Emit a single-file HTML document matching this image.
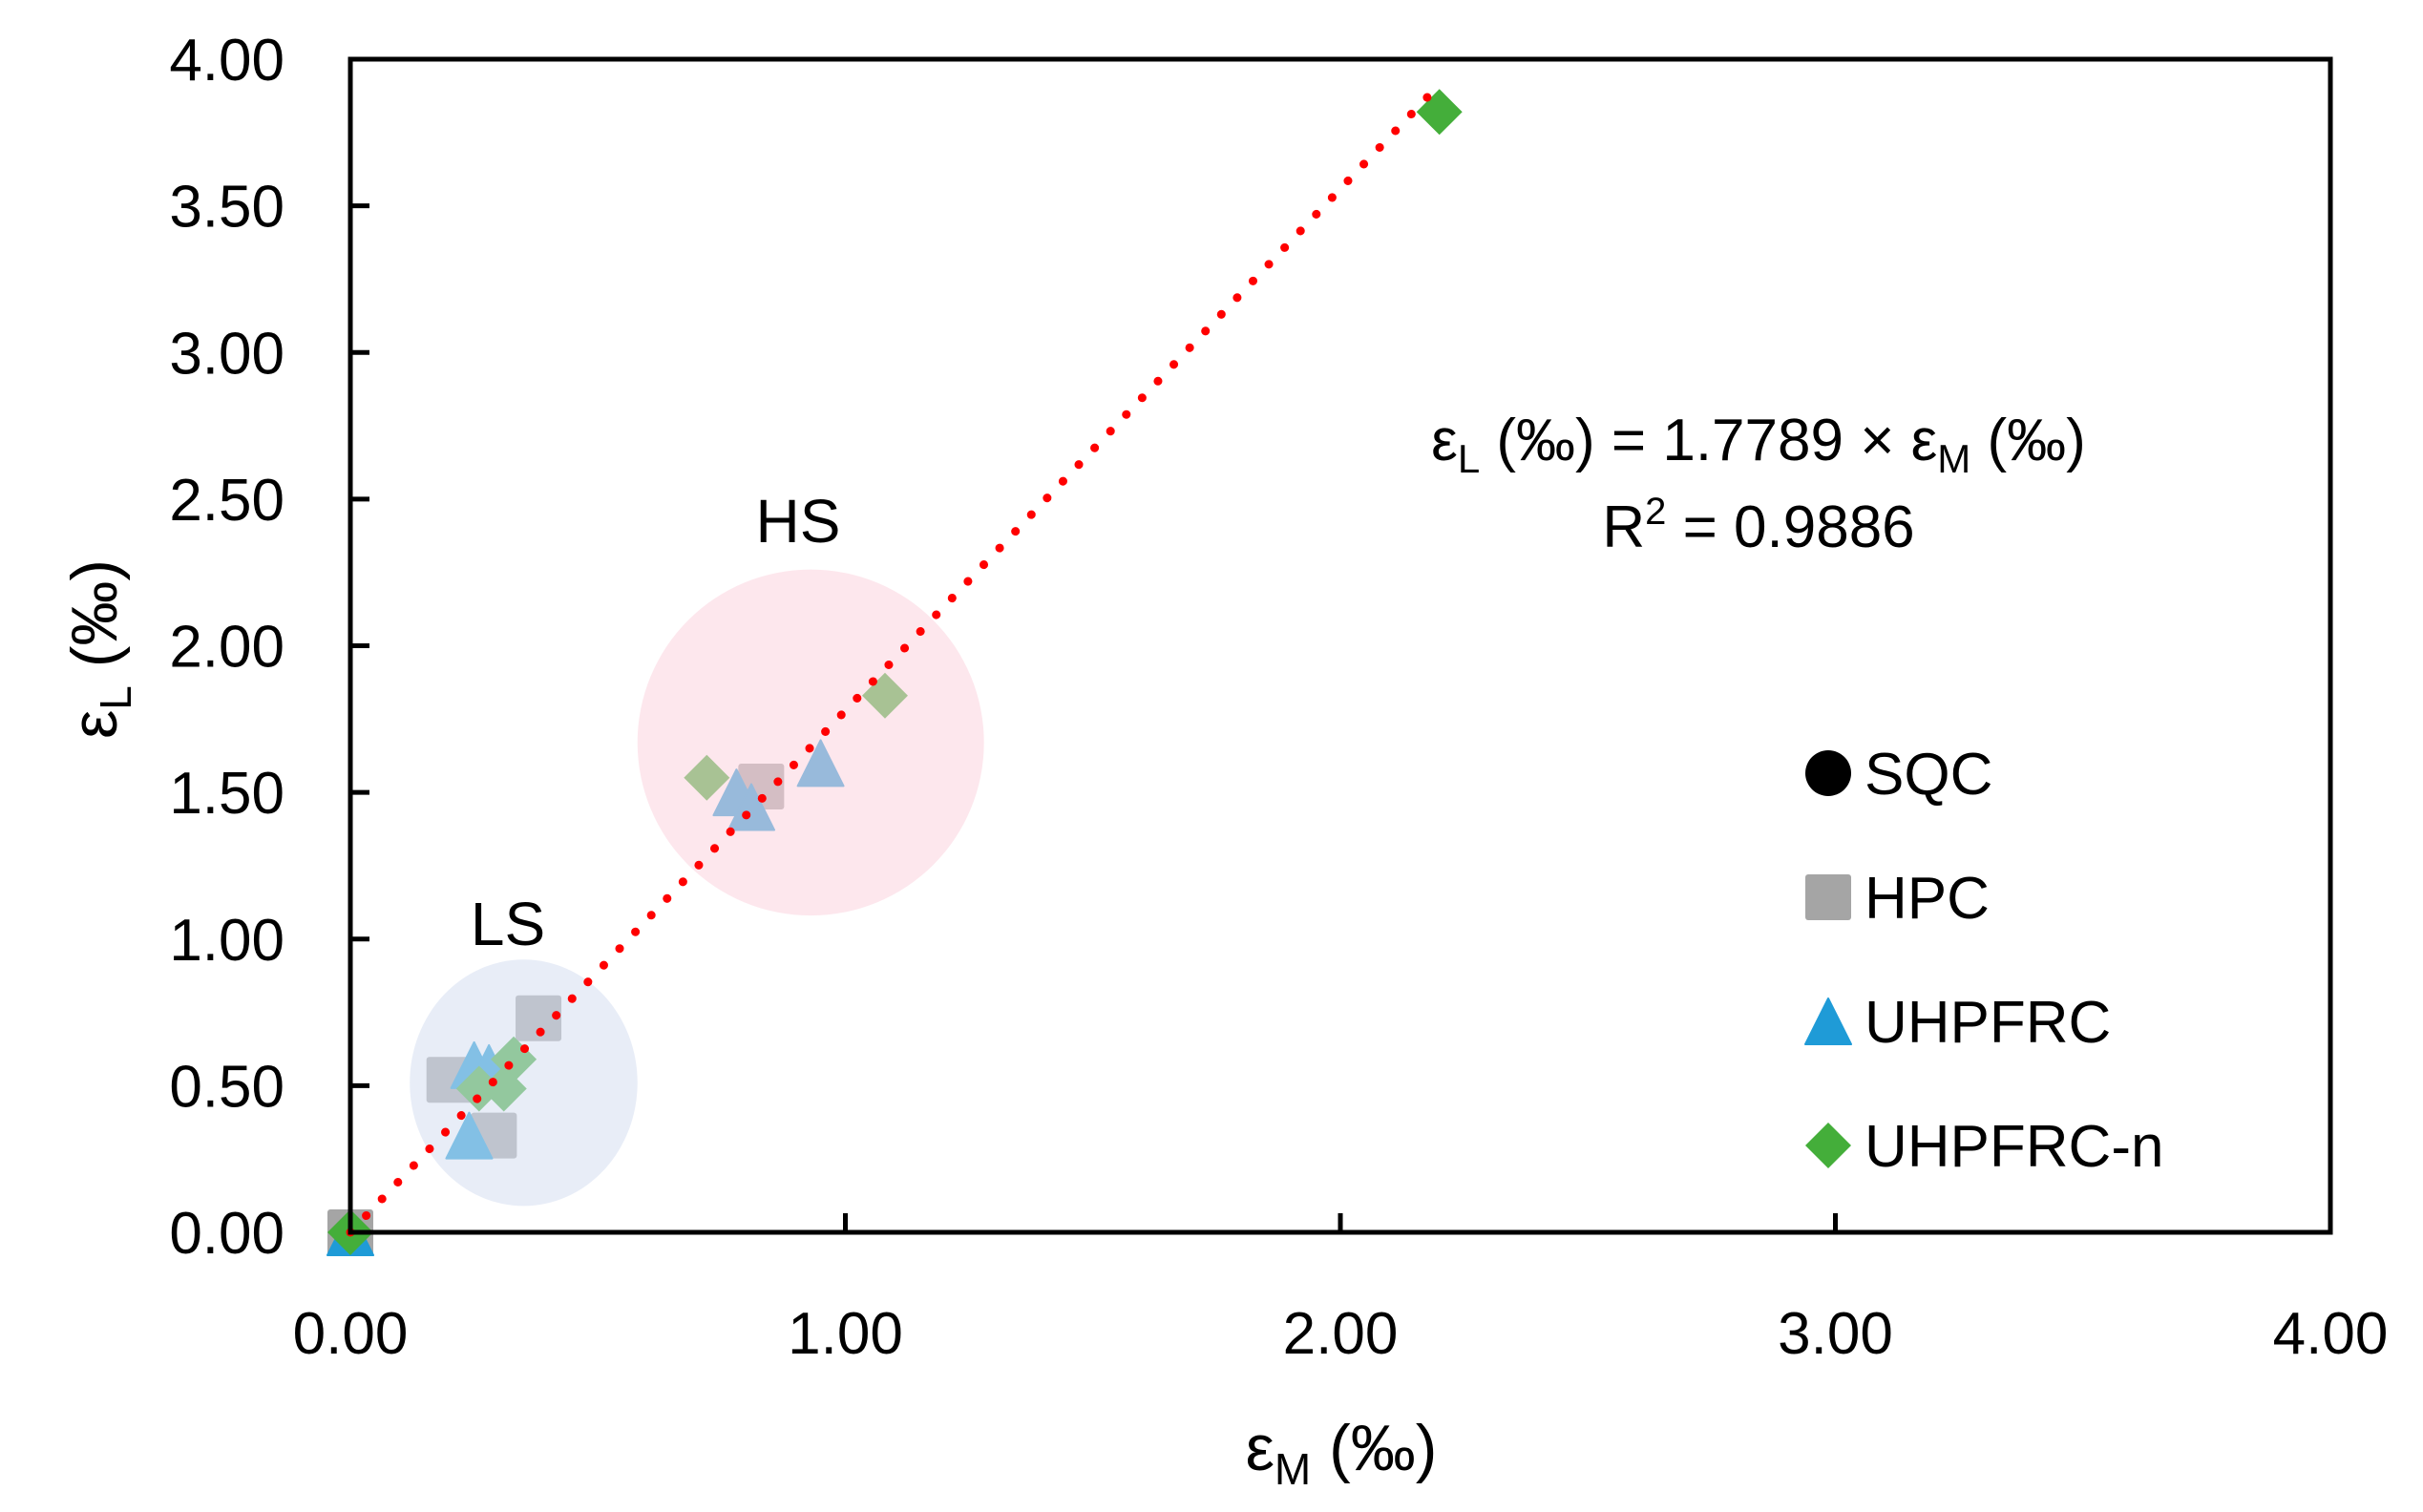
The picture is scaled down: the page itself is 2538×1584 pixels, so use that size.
<!DOCTYPE html>
<html><head><meta charset="utf-8"><style>
html,body{margin:0;padding:0;background:#fff;}
svg{display:block;font-family:"Liberation Sans",sans-serif;}
</style></head><body>
<svg id="chart" width="2538" height="1584" viewBox="0 0 2538 1584" xmlns="http://www.w3.org/2000/svg">
<rect width="2538" height="1584" fill="#fff"/>
<g id="clusters"></g>
<g id="marks"></g>
<g id="overlay"></g>
<g id="trend"></g>
<rect x="367" y="62" width="2074" height="1229" fill="none" stroke="#000" stroke-width="5"/>
<g id="axes"></g>
<text x="1842" y="482" font-size="62" text-anchor="middle">ε<tspan font-size="42" dy="13">L</tspan><tspan dy="-13"> (‰) = 1.7789 × ε</tspan><tspan font-size="42" dy="13">M</tspan><tspan dy="-13"> (‰)</tspan></text>
<text x="1842" y="573" font-size="62" text-anchor="middle">R<tspan font-size="40" dy="-24">2</tspan><tspan dy="24"> = 0.9886</tspan></text>
<text x="836" y="568" font-size="64" text-anchor="middle">HS</text>
<text x="532" y="990" font-size="64" text-anchor="middle">LS</text>
<text x="1405" y="1540" font-size="68" text-anchor="middle">ε<tspan font-size="46" dy="15">M</tspan><tspan dy="-15"> (‰)</tspan></text>
<text transform="translate(122,680) rotate(-90)" font-size="68" text-anchor="middle">ε<tspan font-size="46" dy="15">L</tspan><tspan dy="-15"> (‰)</tspan></text>
<g id="legend"></g>
</svg>
<script>
const xTicks=[0,1,2,3,4];
const yTicks=[0,0.5,1,1.5,2,2.5,3,3.5,4];
const seriesNames=["SQC","HPC","UHPFRC","UHPFRC-n"];
const sqcX=[0];const sqcY=[0];
const hpcX=[0,0.20,0.29,0.38,0.83];const hpcY=[0,0.52,0.33,0.73,1.52];
const uhpX=[0,0.25,0.28,0.24,0.78,0.81,0.95];const uhpY=[0,0.57,0.56,0.33,1.50,1.45,1.60];
const uhpnX=[0,0.33,0.26,0.31,0.72,1.08,2.20];const uhpnY=[0,0.59,0.49,0.49,1.55,1.83,3.82];
const slope=[1.7789];const trendRange=[0,2.19];
const clusterNames=["ls","hs"];const clusterCX=[0.35,0.93];const clusterCY=[0.51,1.67];const clusterRX=[0.23,0.35];const clusterRY=[0.42,0.59];
const NS="http://www.w3.org/2000/svg";
const X0=367,X1=2441,Y0=1291,Y1=62;
const sx=v=>X0+(v-0)/4*(X1-X0);
const sy=v=>Y0-(v-0)/4*(Y0-Y1);
function mk(t,a,p){const e=document.createElementNS(NS,t);for(const k in a)e.setAttribute(k,a[k]);(p||document.getElementById('chart')).appendChild(e);return e;}
const axes=document.getElementById('axes');
yTicks.forEach(v=>{
  if(v>0&&v<4){const l=mk('line',{x1:X0,x2:X0+20,y1:sy(v),y2:sy(v),stroke:'#000','stroke-width':5},axes);
  
  }
  const t=mk('text',{x:298,y:sy(v)+22,'font-size':62,'text-anchor':'end'},axes);t.textContent=v.toFixed(2);
  
  
});
xTicks.forEach(v=>{
  if(v>0&&v<4){const l=mk('line',{x1:sx(v),x2:sx(v),y1:Y0,y2:Y0-20,stroke:'#000','stroke-width':5},axes);
  
  }
  const t=mk('text',{x:sx(v),y:1418,'font-size':62,'text-anchor':'middle'},axes);t.textContent=v.toFixed(2);
  
  
});
const ov=document.getElementById('overlay');
const fills=['#d5def0','#fcd3de'];
clusterNames.forEach((n,i)=>{
  const e=mk('ellipse',{cx:sx(clusterCX[i]),cy:sy(clusterCY[i]),rx:clusterRX[i]/4*(X1-X0),ry:clusterRY[i]/4*(Y0-Y1),fill:fills[i],'fill-opacity':0.55},ov);
  
  
});
const marks=document.getElementById('marks');
function marker(type,x,y,p){
  const s=24;let e;
  if(type==0)e=mk('circle',{cx:x,cy:y,r:s,fill:'#000'},p);
  else if(type==1)e=mk('rect',{x:x-s,y:y-s,width:2*s,height:2*s,rx:3,fill:'#a5a5a5'},p);
  else if(type==2)e=mk('polygon',{points:`${x},${y-s} ${x+s},${y+s} ${x-s},${y+s}`,fill:'#1f9bd7','stroke':'#1f9bd7','stroke-width':2,'stroke-linejoin':'round'},p);
  else e=mk('polygon',{points:`${x},${y-s} ${x+s},${y} ${x},${y+s} ${x-s},${y}`,fill:'#44ae3a'},p);
  return e;
}
const allX=[sqcX,hpcX,uhpX,uhpnX],allY=[sqcY,hpcY,uhpY,uhpnY];
allX.forEach((xs,si)=>xs.forEach((xv,j)=>{
  const e=marker(si,sx(xv),sy(allY[si][j]),marks);
  
  
}));
const tr=document.getElementById('trend');
const line=mk('line',{x1:sx(trendRange[0]),y1:sy(trendRange[0]*slope[0]),x2:sx(trendRange[1]),y2:sy(trendRange[1]*slope[0]),stroke:'#ff0000','stroke-width':9,'stroke-dasharray':'0.1 24','stroke-linecap':'round'},tr);


const lg=document.getElementById('legend');
const ly=[810,940,1070,1200];
seriesNames.forEach((n,i)=>{
  const m=marker(i,1915,ly[i],lg);
  
  
  const t=mk('text',{x:1953,y:ly[i]+22,'font-size':62},lg);t.textContent=n;
  
  
});
</script>
</body></html>
